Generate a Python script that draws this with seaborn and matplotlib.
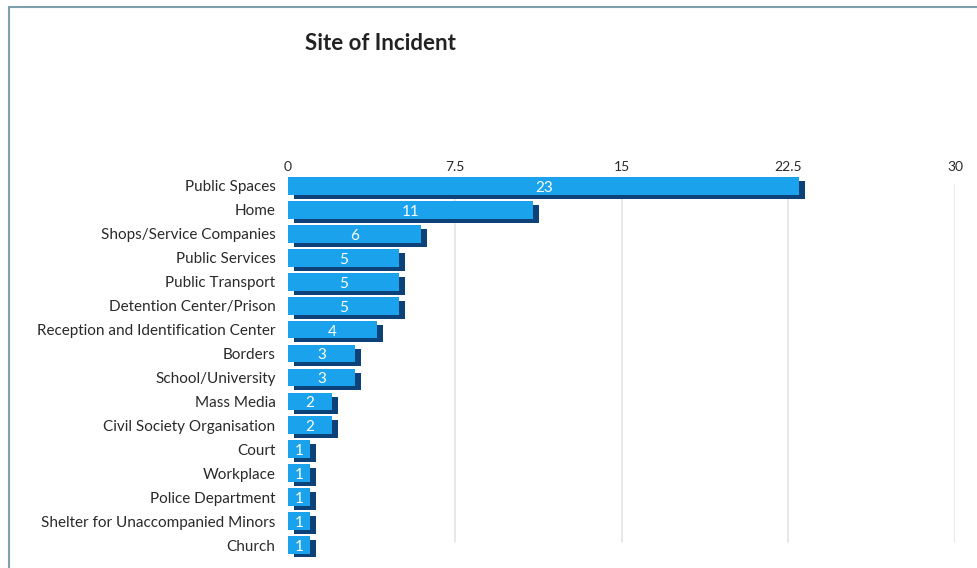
import matplotlib
matplotlib.use("Agg")
import matplotlib.pyplot as plt
from matplotlib.lines import Line2D
from matplotlib.transforms import ScaledTranslation
import seaborn as sns
import pandas as pd

categories = [
    "Public Spaces", "Home", "Shops/Service Companies", "Public Services",
    "Public Transport", "Detention Center/Prison",
    "Reception and Identification Center", "Borders", "School/University",
    "Mass Media", "Civil Society Organisation", "Court", "Workplace",
    "Police Department", "Shelter for Unaccompanied Minors", "Church",
]
counts = [23, 11, 6, 5, 5, 5, 4, 3, 3, 2, 2, 1, 1, 1, 1, 1]
tick_values = [0, 7.5, 15, 22.5, 30]
tick_labels = ["0", "7.5", "15", "22.5", "30"]
title = "Site of Incident"

df = pd.DataFrame({"site": categories, "count": counts})

sns.set_theme(style="white")
plt.rcParams["font.family"] = ["Lato", "DejaVu Sans"]

W, H = 978, 568
fig = plt.figure(figsize=(W / 100, H / 100), dpi=100)
fig.patch.set_facecolor("white")

x0_px, x30_px = 288, 955
top_px, bot_px = 174, 557
ax = fig.add_axes([x0_px / W, 1 - bot_px / H,
                   (x30_px - x0_px) / W, (bot_px - top_px) / H])

# light vertical gridlines
for v in tick_values[1:]:
    ax.axvline(v, ymin=0.04, ymax=0.97, color="#e4e4e4", lw=1.2, zorder=0)

n = len(categories)

# darker depth face underneath, shifted right and down
sns.barplot(data=df, y="site", x="count", orient="h", color="#0d4278",
            saturation=1, width=0.74, ax=ax, zorder=2)
shift = ScaledTranslation(6 / 100, -4 / 100, fig.dpi_scale_trans)
for p in ax.patches[:n]:
    p.set_transform(ax.transData + shift)
    p.set_edgecolor("none")

# bright front face
sns.barplot(data=df, y="site", x="count", orient="h", color="#1aa3ec",
            saturation=1, width=0.74, ax=ax, zorder=3)
for p in ax.patches[n:]:
    p.set_edgecolor("none")

for i, v in enumerate(counts):
    ax.text(v / 2, i + 0.08, str(v), ha="center", va="center",
            color="white", fontsize=11, zorder=5)

ax.set_xlim(0, 30)
ax.set_ylim(n - 0.5, -0.5)
ax.xaxis.tick_top()
ax.set_xticks(tick_values)
ax.set_xticklabels(tick_labels)
ax.tick_params(axis="x", length=0, pad=1, labelsize=10, labelcolor="#2a2a2a")
ax.tick_params(axis="y", length=0, pad=9, labelsize=11, labelcolor="#2a2a2a")
ax.set_xlabel("")
ax.set_ylabel("")
for s in ax.spines.values():
    s.set_visible(False)
ax.set_facecolor("none")

fig.text(305 / W, 1 - 44 / H, title, ha="left", va="center",
         fontsize=16, fontweight="bold", color="#222222")

# outer frame (top and left edges)
frame_color = "#7f9fae"
fig.add_artist(Line2D([8.5 / W, 1], [1 - 6.5 / H, 1 - 6.5 / H],
                      transform=fig.transFigure, color=frame_color, lw=1.5))
fig.add_artist(Line2D([8.5 / W, 8.5 / W], [0, 1 - 6.5 / H],
                      transform=fig.transFigure, color=frame_color, lw=1.5))

fig.savefig("out.png", dpi=100, facecolor="white")
